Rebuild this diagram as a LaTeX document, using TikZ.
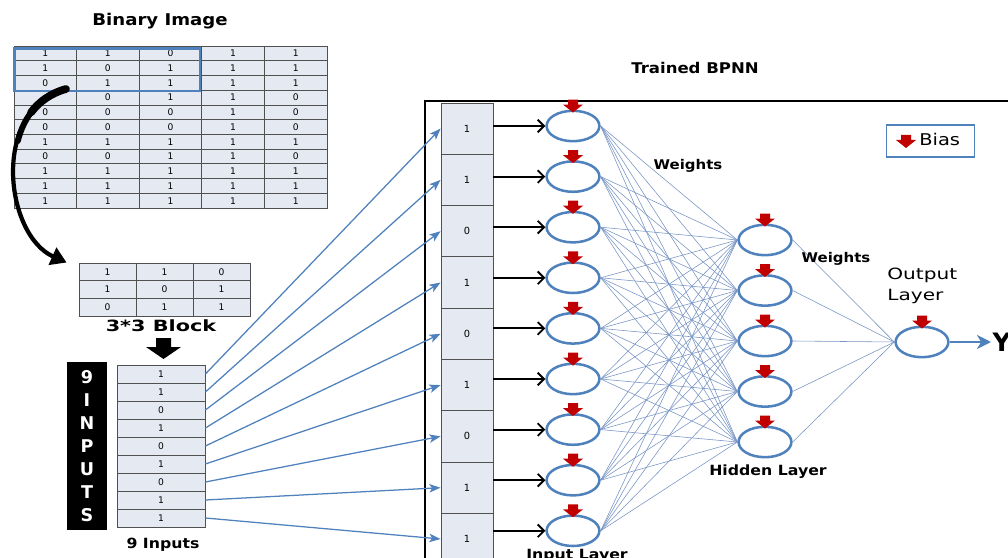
\documentclass[tikz,border=0pt]{standalone}
\usepackage{fontspec}
\setmainfont{DejaVu Sans}
\usetikzlibrary{arrows.meta,shapes.geometric}

\definecolor{cellfill}{RGB}{228,233,242}
\definecolor{gridline}{RGB}{80,80,80}
\definecolor{nnblue}{RGB}{79,129,189}
\definecolor{wtblue}{RGB}{118,148,196}
\definecolor{biasred}{RGB}{192,0,0}

\begin{document}
\begin{tikzpicture}[x=0.025cm,y=-0.025cm,
    bias/.pic={\fill[biasred] (-5,-10) -- (5,-10) -- (5,-5) -- (10,-5) -- (0,3) -- (-10,-5) -- (-5,-5) -- cycle;}]
  \tikzstyle{every node}=[font=\fontsize{9}{11}\selectfont]
  \tikzstyle{bincell}=[draw=gridline, fill=cellfill, line width=0.6pt, inner sep=0pt, font=\fontsize{6.5}{7}\selectfont]
  \tikzstyle{lbl}=[font=\bfseries\fontsize{10}{12}\selectfont, xscale=1.12, inner sep=1pt]
  \tikzstyle{neuron}=[ellipse, draw=nnblue, line width=1.8pt, minimum width=1.32cm, minimum height=0.76cm, inner sep=0pt]
  \tikzstyle{inarrow}=[nnblue, line width=0.9pt, -{Stealth[length=8pt,width=6pt,inset=2pt]}]
  \tikzstyle{feed}=[black, line width=1.3pt, -{Straight Barb[length=4.5pt,width=9pt]}]
  \tikzstyle{weight}=[wtblue, line width=0.4pt]
  \useasboundingbox (0,0) rectangle (1008,558);
  \clip (0,0) rectangle (1008,558);

  % binary image
  \node[lbl, font=\bfseries\fontsize{11.5}{13}\selectfont] (imglbl) at (160,21) {Binary Image};
  \foreach \row [count=\r] in {{1,1,0,1,1},{1,0,1,1,1},{0,1,1,1,1},{{},0,1,1,0},{0,0,0,1,0},{0,0,0,1,0},{1,1,1,1,1},{0,0,1,1,0},{1,1,1,1,1},{1,1,1,1,1},{1,1,1,1,1}}
    \foreach \v [count=\c] in \row
      \node[bincell, minimum width=1.565cm, minimum height=0.368cm] (img-\r-\c) at ({45.3+62.6*(\c-1)},{53.4+14.73*(\r-1)}) {\v};
  \draw[nnblue, line width=1.6pt] ([shift={(1,3)}]img-1-1.north west) rectangle ([shift={(-2,0)}]img-3-3.south east);

  % 3*3 block
  \foreach \row [count=\r] in {{1,1,0},{1,0,1},{0,1,1}}
    \foreach \v [count=\c] in \row
      \node[bincell, minimum width=1.425cm, minimum height=0.4425cm] (blk-\r-\c) at ({107.5+57*(\c-1)},{271.8+17.7*(\r-1)}) {\v};
  \node[lbl, font=\bfseries\fontsize{11}{13}\selectfont, xscale=1.2] (blklbl) at (161,326) {3*3 Block};
  \coordinate (curl) at (66,89);
  \draw[line width=3pt, -{Triangle[length=11pt,width=13pt]}] (curl) .. controls (-10,110) and (5,235) .. ([xshift=-0.3cm]blk-1-1.north west);
  \draw[line width=4.2pt, line cap=round] (curl) .. controls (39.4,96.4) and (24,116.4) .. (17.8,141);
  \draw[line width=5.5pt, line cap=round] (curl) .. controls (50.8,93.2) and (39.2,101.6) .. (31,112.5);
  \fill (156,338) -- (171,338) -- (171,347) -- (181,347) -- (163.5,359) -- (146,347) -- (156,347) -- cycle;

  % 9 inputs
  \node[fill=black, text=white, minimum width=1cm, minimum height=4.175cm, inner sep=0pt, align=center,
        font=\bfseries\fontsize{12.5}{16.3}\selectfont] (ninebox) at (87,446) {9\\I\\N\\P\\U\\T\\S};
  \foreach \v [count=\i] in {1,1,0,1,0,1,0,1,1}
    \node[bincell, minimum width=2.2cm, minimum height=0.45cm] (inp-\i) at (161,{374+18*(\i-1)}) {\v};
  \node[lbl] (inplbl) at (163,545) {9 Inputs};

  % trained network
  \node[lbl, font=\bfseries\fontsize{10.5}{12}\selectfont] (netlbl) at (695,68) {Trained BPNN};
  \draw[line width=1.4pt] (425,575) -- (425,101) -- (1020,101);
  \foreach \v [count=\i] in {1,1,0,1,0,1,0,1,1}
    \node[bincell, minimum width=1.3cm, minimum height=1.2825cm, font=\fontsize{7}{8}\selectfont] (col-\i) at (467,{128.6+51.3*(\i-1)}) {\v};
  \foreach \i in {1,...,9}
    \draw[inarrow] (inp-\i.east) -- (col-\i.west);

  \foreach \i in {1,...,9} {
    \node[neuron] (in-\i) at (573,{126+50.6*(\i-1)}) {};
    \pic at (in-\i.north) {bias};
    \draw[feed] (in-\i.west -| col-\i.east) -- (in-\i.west);
  }
  \foreach \j in {1,...,5} {
    \node[neuron] (hid-\j) at (765,{240+50.5*(\j-1)}) {};
    \pic at (hid-\j.north) {bias};
  }
  \node[neuron] (out) at (922,342) {};
  \pic at (out.north) {bias};

  \foreach \i in {1,...,9}
    \foreach \j in {1,...,5}
      \draw[weight] (in-\i.east) -- (hid-\j.west);
  \foreach \j in {1,...,5}
    \draw[weight] (hid-\j.east) -- (out.west);

  \node[font=\bfseries\fontsize{18}{20}\selectfont, anchor=west, inner sep=1pt] (ylab) at (991,342) {Y};
  \draw[nnblue, line width=2pt, -{Stealth[length=10pt,width=10pt,inset=3pt]}] (out.east) -- (ylab.west);

  \node[lbl, font=\bfseries\fontsize{9.5}{11}\selectfont] (wlbl1) at (688,166) {Weights};
  \node[lbl, font=\bfseries\fontsize{9.5}{11}\selectfont] (wlbl2) at (836,259) {Weights};
  \node[lbl, font=\bfseries\fontsize{10}{12}\selectfont] (hidlbl) at (768,472) {Hidden Layer};
  \node[lbl, font=\bfseries\fontsize{10}{12}\selectfont] (inlbl) at (577,556) {Input Layer};
  \node[font=\fontsize{11}{14.5}\selectfont, xscale=1.3, align=left, anchor=north west, inner sep=0pt] (outlbl) at (887,268) {Output\\Layer};

  % legend
  \node[draw=nnblue, line width=1.3pt, minimum width=2.2cm, minimum height=0.78cm] (legend) at (930.5,141) {};
  \pic at (906,145) {bias};
  \node[font=\fontsize{11.5}{13}\selectfont, xscale=1.2, anchor=west, inner sep=0pt] (biaslbl) at (919,139) {Bias};
\end{tikzpicture}
\end{document}
